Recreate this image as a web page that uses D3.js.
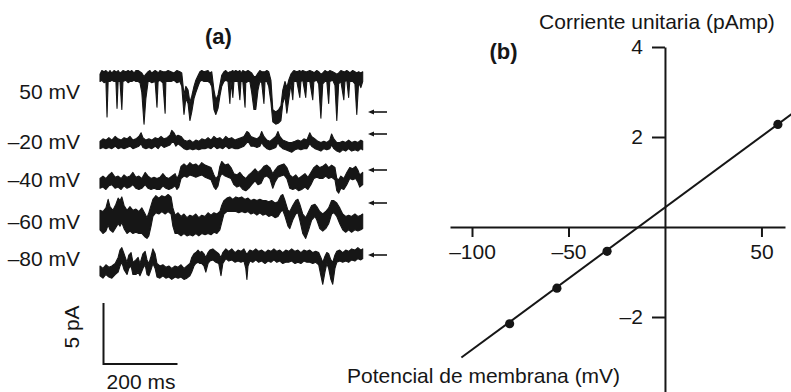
<!DOCTYPE html>
<html><head><meta charset="utf-8">
<script src="https://cdn.jsdelivr.net/npm/d3@7"></script>
<style>
html,body{margin:0;padding:0;background:#fff;}
svg{display:block;font-family:"Liberation Sans",Arial,Helvetica,sans-serif;}
</style></head><body>
<svg id="c" width="791" height="392"></svg>
<script>
// ---------- DATA ----------
// Panel (a): single-channel records, [time ms, upper edge pA, lower edge pA], current relative to arrow (closed) level
const traceLabels = ["50 mV", "–20 mV", "–40 mV", "–60 mV", "–80 mV"];
const trace50 = [[0,3.1,2.5],[5,3.4,2.6],[11,3.3,2.4],[16,3.4,2.5],[19,3.3,-0.4],[22,3.2,2.5],[27,3.4,2.5],[32,3.2,2.6],[38,3.4,2.5],[43,3.3,2.5],[46,3.3,0.3],[49,3.4,2.5],[54,3.2,2.5],[59,3.3,0.2],[62,3.4,2.5],[70,3.3,2.6],[76,3.4,2.4],[81,3.3,2.5],[86,3.4,2.5],[92,3.2,2.6],[97,3.4,2.5],[103,3.4,2.5],[108,3.3,2.4],[113,3.2,1.6],[119,2.9,-1.0],[124,3.1,1.1],[130,3.3,2.5],[135,3.4,2.5],[140,3.2,2.4],[149,3.4,2.5],[154,3.3,0.4],[157,3.2,2.5],[162,3.4,2.6],[170,3.3,2.4],[176,3.3,-0.1],[178,3.3,2.5],[184,3.4,2.5],[192,3.3,2.5],[200,3.2,2.6],[208,3.4,2.4],[216,3.3,2.5],[221,3.2,2.1],[227,1.4,-0.2],[232,2.1,1.1],[238,1.8,0.7],[243,0.8,-0.7],[248,1.3,0.0],[254,2.1,1.1],[259,2.6,1.6],[265,3.0,2.1],[270,3.3,2.5],[275,3.4,2.6],[281,3.3,2.5],[292,3.4,2.5],[297,3.2,2.4],[302,3.3,2.1],[308,1.8,0.2],[313,1.0,-0.2],[319,1.4,0.3],[324,2.2,1.3],[329,3.0,2.1],[335,3.3,2.5],[340,3.4,2.6],[346,3.2,2.5],[351,3.3,0.7],[354,3.3,2.5],[359,3.4,1.2],[362,3.3,2.5],[367,3.4,2.5],[373,3.3,2.5],[378,3.4,1.0],[381,3.2,2.5],[386,3.4,2.5],[392,3.3,0.4],[394,3.3,2.4],[400,3.4,2.5],[405,3.3,2.5],[410,3.2,1.6],[416,2.9,0.2],[421,2.9,0.2],[427,3.2,1.8],[432,3.4,2.5],[437,3.3,2.4],[443,3.3,0.7],[446,3.3,2.5],[451,3.4,2.5],[456,3.3,2.1],[462,2.6,0.8],[467,0.2,-0.8],[475,0.0,-1.0],[483,0.2,-0.9],[489,0.5,-0.7],[494,1.8,0.7],[500,2.5,1.3],[505,2.0,-0.1],[510,2.6,1.0],[516,3.1,2.3],[521,3.3,1.0],[524,3.4,2.5],[532,3.3,2.5],[540,3.4,1.2],[543,3.3,2.5],[548,3.4,2.6],[556,3.3,1.2],[559,3.3,2.5],[567,3.4,2.5],[575,3.3,1.0],[578,3.2,2.5],[586,3.4,2.6],[591,3.3,2.3],[597,3.1,-0.5],[602,3.2,2.3],[608,3.4,2.5],[613,3.3,2.5],[618,3.3,0.7],[621,3.4,2.5],[629,3.3,2.6],[635,3.2,2.2],[640,3.1,-0.7],[645,3.2,2.3],[651,3.4,2.5],[659,3.3,1.0],[662,3.3,2.5],[667,3.4,2.6],[672,3.3,1.2],[675,3.2,2.5],[683,3.4,2.5],[689,3.3,2.3],[694,3.2,-0.2],[699,3.3,2.4],[705,3.2,2.0],[710,3.3,2.5]];
const traceM20 = [[0,-0.6,-1.2],[8,-0.4,-1.1],[16,-0.5,-1.2],[24,-0.3,-1.1],[32,-0.5,-1.2],[41,-0.2,-1.0],[49,-0.4,-1.2],[57,-0.5,-1.1],[65,-0.3,-1.2],[73,-0.4,-1.1],[81,-0.2,-1.0],[89,-0.5,-1.2],[97,-0.4,-1.1],[105,-0.2,-1.0],[111,0.1,-0.8],[116,-0.3,-1.1],[124,-0.5,-1.2],[132,-0.4,-1.1],[140,-0.5,-1.2],[149,-0.3,-1.0],[157,-0.4,-1.2],[165,-0.2,-0.9],[173,-0.4,-1.1],[181,-0.3,-1.0],[189,-0.1,-0.9],[194,0.3,-0.7],[200,0.1,-0.7],[205,-0.2,-1.0],[211,-0.1,-0.8],[219,-0.2,-1.0],[227,-0.5,-1.2],[235,-0.6,-1.3],[243,-0.5,-1.2],[251,-0.7,-1.3],[259,-0.5,-1.2],[267,-0.6,-1.3],[275,-0.4,-1.2],[284,-0.5,-1.2],[292,-0.3,-1.1],[300,-0.5,-1.2],[308,-0.2,-1.0],[316,-0.4,-1.2],[324,-0.3,-1.1],[332,-0.5,-1.2],[340,-0.2,-1.0],[348,-0.4,-1.2],[356,-0.3,-1.1],[365,-0.5,-1.2],[373,-0.4,-1.2],[381,-0.3,-1.1],[389,-0.2,-1.0],[397,0.2,-0.7],[402,0.1,-0.7],[408,-0.2,-1.0],[416,-0.3,-1.0],[424,-0.4,-1.1],[432,-0.2,-1.0],[437,0.2,-0.7],[443,-0.2,-1.0],[451,-0.5,-1.2],[459,-0.6,-1.3],[467,-0.4,-1.2],[475,-0.2,-1.1],[481,0.2,-0.7],[486,-0.2,-1.0],[494,-0.5,-1.2],[502,-0.6,-1.3],[510,-0.7,-1.4],[518,-0.7,-1.5],[527,-0.6,-1.3],[535,-0.5,-1.2],[543,-0.6,-1.3],[551,-0.4,-1.2],[559,-0.5,-1.2],[567,0.1,-0.8],[572,-0.2,-1.0],[581,-0.4,-1.2],[589,-0.6,-1.3],[597,-0.7,-1.4],[605,-0.6,-1.2],[613,-0.7,-1.3],[621,-0.5,-1.2],[626,0.0,-0.9],[632,-0.4,-1.2],[640,-0.7,-1.4],[648,-0.7,-1.5],[656,-0.6,-1.3],[664,-0.7,-1.4],[672,-0.5,-1.2],[680,-0.7,-1.4],[689,-0.6,-1.3],[697,-0.7,-1.4],[705,-0.5,-1.2],[710,-0.6,-1.3]];
const traceM40 = [[0,-0.7,-1.5],[8,-0.5,-1.4],[16,-0.7,-1.6],[24,-0.4,-1.3],[32,-0.2,-1.2],[41,-0.6,-1.5],[49,-0.5,-1.4],[57,-0.7,-1.6],[65,-0.4,-1.3],[73,-0.6,-1.5],[81,-0.5,-1.4],[89,-0.2,-1.2],[97,-0.6,-1.5],[105,-0.5,-1.6],[113,-0.7,-1.5],[122,-0.2,-1.2],[130,-0.5,-1.5],[138,-0.7,-1.6],[146,-0.6,-1.5],[154,-0.7,-1.6],[162,-0.6,-1.6],[170,-0.3,-1.3],[178,-0.6,-1.5],[186,-0.7,-1.6],[194,-0.5,-1.5],[203,-0.3,-1.3],[208,-0.7,-1.6],[213,-0.4,-1.4],[219,0.3,-0.7],[227,0.5,-0.5],[235,0.3,-0.6],[243,0.6,-0.4],[251,0.4,-0.5],[259,0.5,-0.6],[267,0.3,-0.5],[275,0.6,-0.4],[284,0.4,-0.6],[292,0.3,-0.7],[300,0.2,-0.8],[308,-0.4,-1.4],[313,-0.7,-1.6],[319,-0.5,-1.3],[324,0.3,-0.6],[329,0.7,-0.3],[338,0.4,-0.5],[346,0.5,-0.6],[354,0.2,-0.7],[362,-0.3,-1.2],[370,-0.4,-1.4],[378,-0.2,-1.3],[386,-0.5,-1.6],[394,-0.7,-1.7],[402,-0.4,-1.5],[410,-0.2,-1.2],[419,0.1,-0.9],[427,-0.2,-1.2],[435,0.0,-1.1],[443,0.3,-0.6],[451,0.4,-0.5],[459,0.2,-0.7],[467,-0.3,-1.5],[473,0.0,-1.0],[481,0.3,-0.6],[489,0.4,-0.5],[497,0.5,-0.4],[505,0.2,-0.7],[513,-0.4,-1.5],[521,-0.6,-1.6],[529,-0.4,-1.5],[537,-0.7,-1.7],[545,-0.5,-1.6],[554,-0.3,-1.4],[562,-0.6,-1.6],[570,-0.2,-1.2],[578,0.2,-0.7],[586,0.4,-0.6],[594,0.2,-0.7],[602,0.3,-0.7],[610,0.5,-0.5],[618,0.2,-0.7],[626,0.4,-0.6],[635,0.2,-0.8],[640,-0.7,-1.7],[645,-0.8,-1.9],[651,-0.5,-1.5],[659,-0.7,-1.6],[667,-0.2,-1.2],[675,0.2,-0.7],[683,0.1,-0.8],[691,0.3,-0.7],[697,0.0,-1.0],[702,-0.4,-1.4],[710,-0.2,-1.2]];
const traceM60 = [[0,-0.6,-2.2],[8,-0.7,-2.5],[16,-0.4,-2.3],[22,0.3,-1.8],[27,-0.3,-2.2],[35,-0.6,-2.4],[43,-0.1,-2.0],[49,0.4,-1.7],[54,0.2,-1.9],[59,0.5,-1.6],[65,-0.2,-2.1],[73,-0.6,-2.5],[81,-0.3,-2.3],[89,-0.6,-2.5],[97,-0.5,-2.4],[105,-0.7,-2.5],[113,-0.4,-2.5],[122,-0.9,-2.8],[127,-1.2,-2.9],[132,-0.8,-2.7],[138,-0.2,-1.9],[143,0.3,-1.1],[151,0.6,-0.8],[159,0.4,-0.9],[167,0.6,-0.7],[176,0.5,-0.9],[184,0.7,-0.7],[192,0.5,-0.9],[197,-0.4,-1.9],[203,-1.0,-2.5],[211,-0.8,-2.5],[219,-1.1,-2.7],[227,-0.9,-2.5],[235,-1.2,-2.7],[243,-1.0,-2.6],[251,-1.1,-2.7],[259,-0.9,-2.5],[267,-1.2,-2.7],[275,-1.0,-2.5],[284,-1.1,-2.6],[292,-0.8,-2.5],[300,-1.0,-2.6],[308,-0.8,-2.4],[316,-0.9,-2.5],[324,-0.7,-2.2],[329,-0.2,-1.6],[335,0.2,-0.9],[343,0.4,-0.7],[351,0.5,-0.7],[359,0.3,-0.7],[367,0.5,-0.7],[375,0.4,-0.8],[383,0.5,-0.7],[392,0.3,-0.8],[400,0.4,-0.7],[408,0.2,-0.9],[416,0.3,-0.8],[424,0.2,-1.0],[432,0.3,-0.8],[440,0.2,-1.0],[448,0.2,-0.9],[456,0.1,-1.1],[464,0.2,-1.0],[473,0.0,-1.2],[481,0.1,-1.1],[489,0.6,-0.7],[494,0.7,-0.6],[500,0.2,-1.1],[508,-0.6,-1.9],[513,-0.7,-2.1],[521,-0.2,-1.4],[529,0.2,-0.9],[535,0.3,-0.8],[540,-0.1,-1.4],[548,-0.9,-2.5],[556,-1.2,-2.9],[564,-0.7,-2.2],[572,-0.2,-1.4],[581,-0.1,-1.1],[586,-0.3,-1.4],[594,-0.7,-2.1],[602,-0.9,-2.3],[610,-0.7,-2.1],[618,-0.4,-1.7],[626,0.2,-0.9],[632,0.2,-0.8],[640,0.0,-1.1],[648,-0.4,-1.7],[656,-0.9,-2.2],[664,-1.1,-2.4],[672,-1.0,-2.2],[680,-1.1,-2.4],[689,-0.9,-2.2],[697,-1.1,-2.3],[705,-1.0,-2.2],[710,-0.9,-2.1]];
const traceM80 = [[0,-0.9,-1.7],[8,-1.1,-1.9],[16,-0.8,-1.6],[24,-1.0,-1.8],[32,-0.9,-1.9],[41,-0.7,-1.6],[49,-0.2,-1.4],[54,0.4,-0.9],[59,0.6,-0.6],[65,0.1,-1.2],[73,-0.6,-1.6],[78,0.0,-1.1],[84,0.2,-0.9],[89,-0.6,-1.6],[97,-0.4,-1.6],[103,-0.2,-1.4],[108,-0.7,-1.7],[116,0.1,-1.1],[122,0.3,-0.8],[127,-0.4,-1.6],[132,-0.7,-1.7],[138,-0.1,-1.2],[143,0.5,-0.7],[149,0.1,-1.1],[154,-0.7,-1.8],[162,-0.9,-1.9],[170,-0.8,-1.7],[178,-1.0,-1.9],[186,-0.9,-1.8],[194,-1.1,-2.0],[203,-0.9,-1.8],[211,-1.0,-1.9],[219,-0.8,-1.8],[227,-1.1,-2.0],[235,-0.9,-1.9],[243,-0.7,-1.7],[248,-0.2,-1.4],[254,0.1,-0.9],[259,0.2,-0.7],[265,0.4,-0.6],[270,0.2,-0.7],[275,0.3,-0.7],[281,0.1,-0.9],[286,-0.2,-1.4],[292,0.2,-0.7],[297,0.4,-0.5],[305,0.5,-0.4],[313,0.3,-0.6],[321,0.1,-0.7],[327,-0.2,-1.7],[332,0.2,-0.7],[340,0.5,-0.3],[348,0.3,-0.5],[356,0.5,-0.4],[365,0.2,-0.6],[373,0.4,-0.5],[381,0.3,-0.6],[389,0.5,-0.5],[394,0.2,-1.1],[397,0.1,-2.0],[400,0.2,-0.9],[405,0.4,-0.5],[413,0.3,-0.6],[421,0.5,-0.4],[429,0.3,-0.6],[437,0.4,-0.5],[446,0.2,-0.7],[454,0.4,-0.5],[462,0.3,-0.6],[470,0.5,-0.4],[478,0.3,-0.6],[486,0.4,-0.5],[494,0.2,-0.7],[502,0.4,-0.6],[510,0.3,-0.6],[518,0.5,-0.5],[527,0.3,-0.7],[535,0.4,-0.6],[543,0.2,-0.7],[551,0.4,-0.5],[559,0.3,-0.6],[567,0.4,-0.6],[575,0.2,-0.7],[583,0.3,-0.6],[591,0.2,-0.8],[597,-0.2,-1.7],[602,-0.6,-2.4],[608,-0.1,-1.4],[613,0.2,-0.7],[618,0.1,-1.1],[624,-0.4,-2.0],[629,-0.6,-2.4],[635,0.0,-1.1],[640,0.3,-0.6],[648,0.4,-0.5],[656,0.2,-0.6],[664,0.4,-0.5],[672,0.3,-0.6],[680,0.5,-0.4],[689,0.4,-0.5],[697,0.6,-0.3],[705,0.4,-0.4],[710,0.5,-0.3]];
const traces = [trace50, traceM20, traceM40, traceM60, traceM80];
const scaleBarCurrent = 5;    // pA
const scaleBarTime = 200;     // ms

// Panel (b): I-V relation
const membraneV = [-80.5, -56, -30, 58.5];        // mV
const unitaryI  = [-2.15, -1.36, -0.54, 2.28];    // pA
const fitLineV  = [-105.5, 66];                   // mV (fitted line ends)
const fitLineI  = [-2.9, 2.52];                   // pA
const xTicksB = [-100, -50, 50];
const yTicksB = [4, 2, -2];

// ---------- LAYOUT ----------
const svg = d3.select("#c");
const ink = "#161616";
const FONT = 21;
svg.append("rect").attr("width",791).attr("height",392).attr("fill","#fff");

// Panel (a)
const tScale = d3.scaleLinear().domain([0, 710]).range([100, 362.7]);
const iScale = d3.scaleLinear().domain([0, 5]).range([0, -61]);
const zeroY = [112, 134, 170, 203, 255];
const labelY = [99, 149, 187, 229, 266];

const area = d3.area()
  .x(d => tScale(d[0]))
  .y0(d => iScale(d[2]))
  .y1(d => iScale(d[1]));

const ga = svg.append("g");
traces.forEach((tr, k) => {
  const g = ga.append("g").attr("transform", `translate(0,${zeroY[k]})`);
  g.append("path").attr("d", area(tr))
    .attr("fill", ink).attr("stroke", ink).attr("stroke-width", 1.1).attr("stroke-linejoin","round");
  // arrow marking zero-current level
  g.append("line").attr("x1", 372).attr("x2", 387).attr("y1", iScale(0)).attr("y2", iScale(0))
    .attr("stroke", ink).attr("stroke-width", 1.6);
  g.append("path").attr("d", `M368,${iScale(0)} l6,-2.6 l0,5.2 Z`).attr("fill", ink);
  ga.append("text").attr("x", 80).attr("y", labelY[k]).attr("text-anchor","end")
    .attr("font-size", FONT).attr("fill", ink).text(traceLabels[k]);
});

ga.append("text").attr("x", 218.5).attr("y", 44).attr("text-anchor","middle")
  .attr("font-size", 22).attr("font-weight","bold").attr("fill", ink).text("(a)");

// scale bars
const sbX = 103.5, sbY = 364;
ga.append("path")
  .attr("d", `M${sbX},${sbY + iScale(scaleBarCurrent)} L${sbX},${sbY} L${sbX + tScale(scaleBarTime) - tScale(0)},${sbY}`)
  .attr("fill","none").attr("stroke", ink).attr("stroke-width", 2);
ga.append("text").attr("transform", `translate(79,327) rotate(-90)`).attr("text-anchor","middle")
  .attr("font-size", FONT).attr("fill", ink).text(`${scaleBarCurrent} pA`);
ga.append("text").attr("x", 141).attr("y", 389).attr("text-anchor","middle")
  .attr("font-size", FONT).attr("fill", ink).text(`${scaleBarTime} ms`);

// Panel (b)
const xB = d3.scaleLinear().domain([-111.4, 62.2]).range([450, 785]);
const yB = d3.scaleLinear().domain([-3.7, 4]).range([393.5, 47]);
const fmt = d => d < 0 ? "–" + Math.abs(d) : String(d);

const gx = svg.append("g").attr("transform", `translate(0,${yB(0)})`)
  .call(d3.axisBottom(xB).tickValues(xTicksB).tickSize(10).tickSizeOuter(0).tickPadding(7).tickFormat(fmt));
const gy = svg.append("g").attr("transform", `translate(${xB(0)},0)`)
  .call(d3.axisLeft(yB).tickValues(yTicksB).tickSize(13).tickSizeOuter(0).tickPadding(9).tickFormat(fmt));
[gx, gy].forEach(g => {
  g.selectAll("path.domain").attr("stroke", ink).attr("stroke-width", 2);
  g.selectAll(".tick line").attr("stroke", ink).attr("stroke-width", 2);
  g.selectAll(".tick text").attr("font-size", FONT).attr("fill", ink)
    .attr("font-family", '"Liberation Sans",Arial,sans-serif');
});

const lineGen = d3.line().x(d => xB(d[0])).y(d => yB(d[1]));
svg.append("path").attr("d", lineGen(d3.zip(fitLineV, fitLineI)))
  .attr("fill","none").attr("stroke", ink).attr("stroke-width", 2);

svg.append("g").selectAll("circle").data(d3.zip(membraneV, unitaryI)).join("circle")
  .attr("cx", d => xB(d[0])).attr("cy", d => yB(d[1])).attr("r", 4.6).attr("fill", ink);

svg.append("text").attr("x", 657).attr("y", 29).attr("text-anchor","middle")
  .attr("font-size", FONT).attr("fill", ink).text("Corriente unitaria (pAmp)");
svg.append("text").attr("x", 503.5).attr("y", 59).attr("text-anchor","middle")
  .attr("font-size", 22).attr("font-weight","bold").attr("fill", ink).text("(b)");
svg.append("text").attr("x", 347).attr("y", 383).attr("text-anchor","start")
  .attr("font-size", FONT).attr("fill", ink).text("Potencial de membrana (mV)");
</script>
</body></html>
